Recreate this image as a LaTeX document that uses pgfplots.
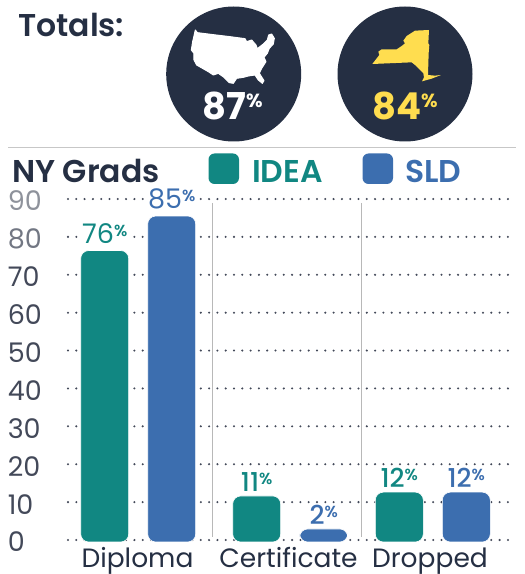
\documentclass[border=0pt]{standalone}
\usepackage{pgfplots}
\pgfplotsset{compat=1.18}
\usepackage{fontspec}
\setmainfont{Poppins}
\newfontfamily\semib{Poppins SemiBold}
\newfontfamily\medf{Poppins Medium}
\newfontfamily\boldf{Poppins Bold}
\definecolor{teal1}{HTML}{118782}
\definecolor{blue1}{HTML}{3C6EAF}
\definecolor{navy}{HTML}{252F43}
\definecolor{yel}{HTML}{FFDD4F}
\definecolor{tk}{HTML}{434959}
\newcommand{\fs}[1]{\fontsize{#1}{#1}\selectfont}
\newcommand{\barlabel}[1]{\ifnum#1>50 \raisebox{3pt}{\fs{27}#1\raisebox{7pt}{\fs{16}\semib\%}}\else\fs{26}\medf #1\raisebox{7pt}{\fs{16}\semib\%}\fi}
\begin{document}
\begin{tikzpicture}
\useasboundingbox (0pt,0pt) rectangle (525pt,574pt);
\begin{scope}[shift={(0pt,574pt)},x=1pt,y=-1pt]
\node[anchor=base west,inner sep=0,text=navy] at (18,37) {\fs{31.5}\semib Totals:};
\fill[navy] (233.7,74) circle (67.5pt);
\fill[navy] (405,74) circle (67.5pt);
\begin{scope}[shift={(180,20)},x=0.3333pt,y=-0.3333pt]
\filldraw[white,line width=1pt,line join=round] (46,30)--(52,38)--(100,44)--(150,50)--(195,56)--(200,65)--(215,60)--(228,75)--(232,86)--(250,72)--(262,60)--(266,45)--(275,42)--(283,55)--(280,72)--(268,85)--(262,100)--(252,112)--(258,125)--(245,145)--(238,160)--(252,182)--(247,190)--(235,180)--(225,165)--(205,168)--(190,172)--(170,175)--(160,190)--(148,188)--(132,172)--(115,160)--(100,165)--(85,155)--(50,135)--(42,120)--(42,100)--(34,90)--(38,65)--cycle;
\end{scope}
\begin{scope}[shift={(360,20)},x=0.3333pt,y=-0.3333pt]
\fill[yel] (165,32)--(207,30)--(205,70)--(208,75)--(206,100)--(204,165)--(225,167)--(243,165)--(215,176)--(186,184)--(192,172)--(190,160)--(165,135)--(155,127)--(37,132)--(58,105)--(55,95)--(65,88)--(110,88)--(125,78)--(135,70)--(130,62)--(140,48)--cycle;
\end{scope}
\node[anchor=base,inner sep=0,text=white] at (232.5,120) {\fs{37}\boldf 87\raisebox{12pt}{\fs{19}\%}};
\node[anchor=base,inner sep=0,text=yel] at (405,120) {\fs{37}\boldf 84\raisebox{12pt}{\fs{19}\%}};
\draw[line width=1.3pt,color=black!22] (8,147.5)--(515.5,147.5);
\node[anchor=base west,inner sep=0,text=navy] at (12,183) {\fs{31.5}\semib NY Grads};
\fill[teal1,rounded corners=6pt] (208.5,153.5) rectangle (239,184);
\fill[blue1,rounded corners=6pt] (362.5,153.5) rectangle (393,184);
\node[anchor=base west,inner sep=0,text=teal1] at (252,183) {\fs{31.5}\semib IDEA};
\node[anchor=base west,inner sep=0,text=blue1] at (405,183) {\fs{31.5}\semib SLD};
\end{scope}
% grid and scale
\begin{axis}[
  at={(68pt,34pt)},anchor=south west,
  scale only axis,width=444pt,height=341pt,
  xmin=68,xmax=512,ymin=0,ymax=90,
  axis line style={draw=none},
  major tick length=0pt,
  clip=false,
  ytick={0,10,...,90},
  yticklabels={0,10,20,30,40,50,60,{\textcolor{tk}{70}},{\textcolor{tk!75!white}{80}},{\textcolor{tk!60!white}{90}}},
  ymajorgrids,
  grid style={draw=tk,line width=2.3pt,line cap=round,dash pattern=on 0pt off 8.3pt},
  yticklabel style={font=\fs{27},text=tk,text width=60pt,align=left,inner sep=0pt,anchor=east,yshift=-2pt},
  xtick={137.5,288.5,430},
  xticklabels={Diploma,Certificate,Dropped},
  xticklabel style={font=\fs{26.5},text=navy,inner sep=0pt,anchor=base,yshift=-27.5pt},
]
\end{axis}
\begin{scope}[shift={(0pt,574pt)},x=1pt,y=-1pt]
\draw[line width=1pt,color=black!28] (212,203)--(212,537);
\draw[line width=1pt,color=black!28] (361,203)--(361,537);
\end{scope}
% bars
\begin{axis}[
  at={(68pt,32pt)},anchor=south west,
  scale only axis,width=444pt,height=345.15pt,
  xmin=68,xmax=512,ymin=0,ymax=90,
  axis lines=none,clip=false,
  ybar,bar width=48pt,
  point meta=explicit symbolic,
  nodes near coords={\barlabel{\pgfplotspointmeta}},
  every node near coord/.style={anchor=base,fill=white,inner xsep=1pt,inner ysep=0pt,yshift=4.5pt},
]
\addplot[draw=white,line width=0.6pt,fill=teal1,rounded corners=8pt,bar shift=-33.5pt,every node near coord/.append style={text=teal1,xshift=-33.5pt}]
 coordinates {(138.2,76)[76] (290.2,12)[11] (432.8,13)[12]};
\addplot[draw=white,line width=0.6pt,fill=blue1,rounded corners=8pt,bar shift=33.5pt,every node near coord/.append style={text=blue1,xshift=33.5pt}]
 coordinates {(138.2,85)[85] (290.2,3.4)[2] (432.8,13)[12]};
\end{axis}
\end{tikzpicture}
\end{document}
